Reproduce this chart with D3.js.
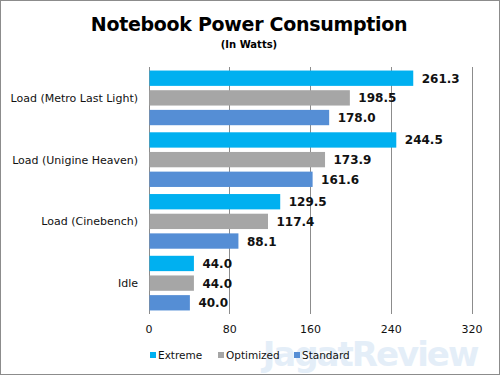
<!DOCTYPE html>
<html>
<head>
<meta charset="utf-8">
<script src="https://cdnjs.cloudflare.com/ajax/libs/d3/7.8.5/d3.min.js"></script>
<style>
  body { margin: 0; background: #fff; }
  svg { display: block; }
</style>
</head>
<body>
<div id="chart"></div>
<script>
const categories = ["Load (Metro Last Light)", "Load (Unigine Heaven)", "Load (Cinebench)", "Idle"];
const seriesNames = ["Extreme", "Optimized", "Standard"];
const extreme = [261.3, 244.5, 129.5, 44.0];
const optimized = [198.5, 173.9, 117.4, 44.0];
const standard = [178.0, 161.6, 88.1, 40.0];
const xTicks = [0, 80, 160, 240, 320];
const colors = ["#00b0f0", "#a6a6a6", "#558ed5"];

const width = 500, height = 375;
const series = [extreme, optimized, standard];

const svg = d3.select("#chart").append("svg")
  .attr("width", width)
  .attr("height", height);

// border
svg.append("rect")
  .attr("x", 0.5).attr("y", 0.5)
  .attr("width", width - 1).attr("height", height - 1)
  .attr("fill", "#fff")
  .attr("stroke", "#8c8c8c");

const plot = { left: 149, right: 472, top: 67, bottom: 314 };

const x = d3.scaleLinear().domain([0, 320]).range([plot.left, plot.right]);
const y = d3.scaleBand().domain(categories).range([plot.top, plot.bottom]);
const inner = d3.scaleBand().domain(seriesNames)
  .range([0, y.bandwidth()]).paddingInner(0.22).paddingOuter(0.18);

// watermark (faint, behind everything)
svg.append("text")
  .attr("x", 370).attr("y", 366)
  .attr("text-anchor", "middle")
  .style("font-family", "Verdana, DejaVu Sans, sans-serif")
  .style("font-weight", "bold")
  .style("font-size", "34px")
  .style("letter-spacing", "-2px")
  .attr("fill", "#e4eef8")
  .text("JagatReview");

// gridlines
svg.append("g")
  .selectAll("line")
  .data(xTicks)
  .enter().append("line")
  .attr("x1", d => x(d)).attr("x2", d => x(d))
  .attr("y1", plot.top).attr("y2", plot.bottom)
  .attr("stroke", "#8c8c8c")
  .attr("stroke-width", 1)
  .attr("shape-rendering", "crispEdges");

// x tick labels
svg.append("g")
  .selectAll("text")
  .data(xTicks)
  .enter().append("text")
  .attr("x", d => x(d))
  .attr("y", 333)
  .attr("text-anchor", "middle")
  .style("font-family", "DejaVu Sans, sans-serif")
  .style("font-size", "11px")
  .attr("fill", "#111")
  .text(d => d);

// category labels
svg.append("g")
  .selectAll("text")
  .data(categories)
  .enter().append("text")
  .attr("x", 138)
  .attr("y", d => y(d) + y.bandwidth() / 2 + 4)
  .attr("text-anchor", "end")
  .style("font-family", "DejaVu Sans, sans-serif")
  .style("font-size", "11px")
  .attr("fill", "#111")
  .text(d => d);

// bars
const groups = svg.append("g")
  .selectAll("g")
  .data(seriesNames)
  .enter().append("g")
  .attr("fill", (d, i) => colors[i]);

groups.each(function(name, si) {
  const g = d3.select(this);
  const vals = series[si];
  g.selectAll("rect")
    .data(categories)
    .enter().append("rect")
    .attr("x", x(0) + 0.5)
    .attr("y", (c) => y(c) + inner(name))
    .attr("width", (c, i) => x(vals[i]) - x(0))
    .attr("height", inner.bandwidth());
  g.selectAll("text")
    .data(categories)
    .enter().append("text")
    .attr("x", (c, i) => x(vals[i]) + 9)
    .attr("y", (c) => y(c) + inner(name) + inner.bandwidth() / 2 + 4.5)
    .style("font-family", "DejaVu Sans, sans-serif")
    .style("font-size", "12px")
    .style("font-weight", "bold")
    .attr("fill", "#111")
    .text((c, i) => vals[i].toFixed(1));
});

// title
svg.append("text")
  .attr("x", 249).attr("y", 31)
  .attr("text-anchor", "middle")
  .style("font-family", "DejaVu Sans, sans-serif")
  .style("font-size", "19px")
  .style("font-weight", "bold")
  .style("letter-spacing", "-0.3px")
  .attr("fill", "#000")
  .text("Notebook Power Consumption");

svg.append("text")
  .attr("x", 249).attr("y", 48)
  .attr("text-anchor", "middle")
  .style("font-family", "DejaVu Sans, sans-serif")
  .style("font-size", "10px")
  .style("font-weight", "bold")
  .attr("fill", "#000")
  .text("(In Watts)");

// legend
const legendX = [150, 218, 294];
const legend = svg.append("g")
  .selectAll("g")
  .data(seriesNames)
  .enter().append("g")
  .attr("transform", (d, i) => `translate(${legendX[i]}, 355)`);

legend.append("rect")
  .attr("x", 0).attr("y", -3)
  .attr("width", 6).attr("height", 6)
  .attr("fill", (d, i) => colors[i]);

legend.append("text")
  .attr("x", 8).attr("y", 4)
  .style("font-family", "DejaVu Sans, sans-serif")
  .style("font-size", "10.5px")
  .attr("fill", "#111")
  .text(d => d);
</script>
</body>
</html>
